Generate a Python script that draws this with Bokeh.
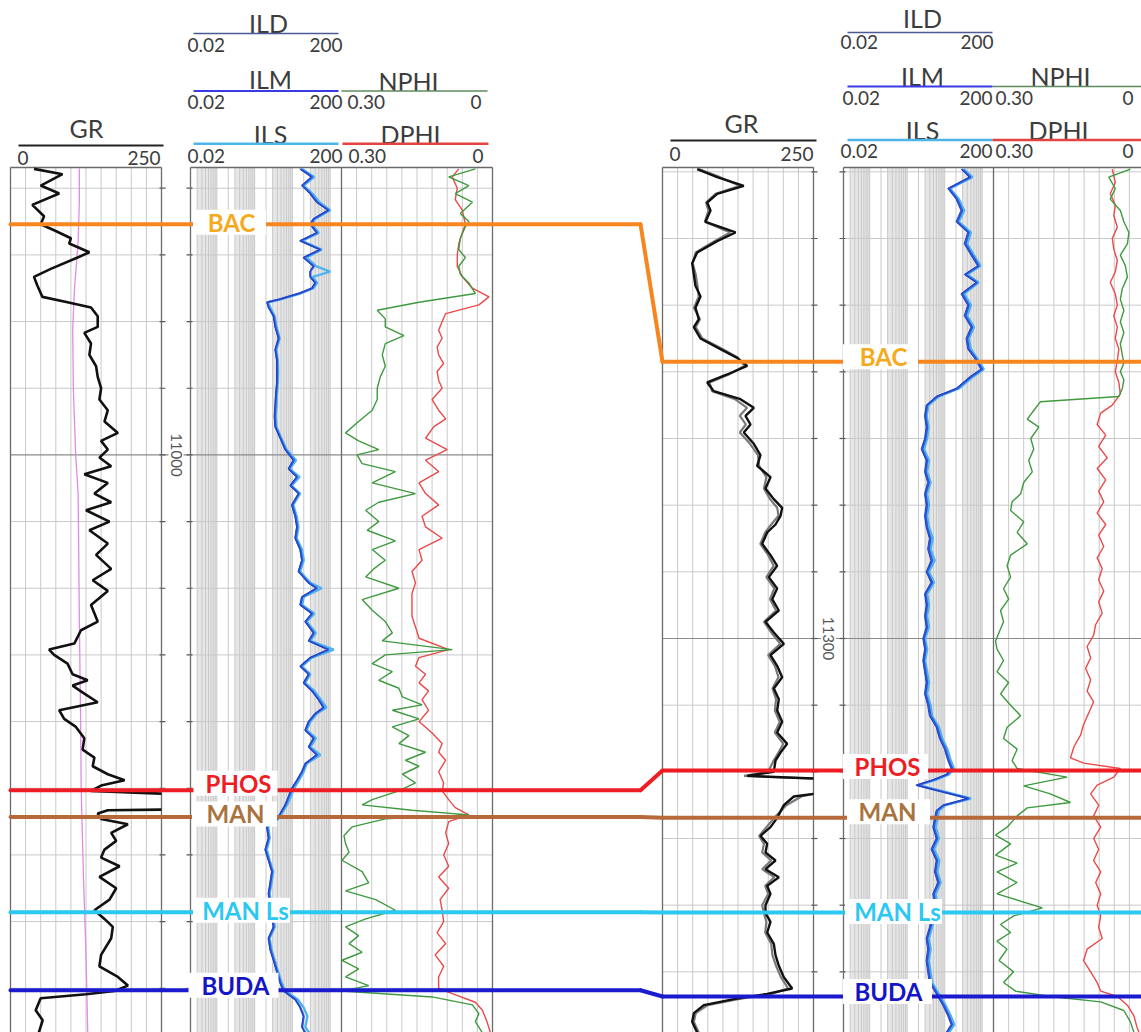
import math
from bokeh.plotting import figure
from bokeh.models import Range1d, LogScale
from bokeh.embed import file_html
from bokeh.resources import INLINE
from bokeh.core.properties import value

NAN = float("nan")   # off-scale gap in a curve

# ============================ DATA ============================
# ---- Left well: GR (API) vs depth (ft)
L_GR_D = [10957.1, 10957.9, 10959.6, 10960.8, 10962.5, 10964.2, 10965.4, 10966.3, 10967.5, 10968.3,
          10969.6, 10970.4, 10972.1, 10973.3, 10974.6, 10976.3, 10977.1, 10977.9, 10979.2, 10980.8,
          10981.7, 10983.3, 10985.0, 10986.7, 10988.3, 10990.0, 10991.7, 10993.3, 10995.0, 10996.7,
          10997.9, 10999.2, 11000.4, 11001.7, 11002.9, 11004.2, 11005.8, 11007.1, 11008.3, 11010.0,
          11011.3, 11013.3, 11015.0, 11017.1, 11018.8, 11020.4, 11022.5, 11025.0, 11026.3, 11028.3,
          11029.2, 11030.0, 11031.3, 11032.9, 11033.8, 11034.6, 11035.8, 11037.1, 11038.3, 11039.6,
          11040.8, 11042.5, 11044.2, 11045.4, 11046.7, 11047.9, 11048.8, 11049.6, 11050.4, 11050.7,
          11050.8, 11052.0, 11053.2, 11053.3, 11053.8, 11054.6, 11055.4, 11056.7, 11057.9, 11059.2,
          11060.4, 11061.7, 11063.3, 11065.0, 11066.7, 11068.3, 11069.6, 11070.8, 11072.5, 11075.0,
          11076.7, 11078.3, 11079.6, 11080.4, 11080.9, 11081.5, 11083.3, 11084.8, 11086.7]
L_GR = [38.9, 86.1, 50.0, 80.6, 36.1, 55.6, 50.0, 72.2, 100.0, 97.2,
        130.6, 111.1, 66.7, 38.9, 44.4, 52.8, 94.4, 133.3, 144.4, 144.4,
        122.2, 133.3, 130.6, 141.7, 144.4, 150.0, 147.2, 161.1, 155.6, 177.8,
        150.0, 161.1, 147.2, 166.7, 122.2, 161.1, 138.9, 166.7, 125.0, 163.9,
        130.6, 161.1, 141.7, 166.7, 136.1, 161.1, 133.3, 144.4, 116.7, 105.6,
        63.9, 72.2, 94.4, 102.8, 127.8, 102.8, 122.2, 144.4, 80.6, 88.9,
        108.3, 122.2, 119.4, 138.9, 136.1, 161.1, 188.9, 150.0, 133.3, 216.7,
        250.0, NAN, 250.0, 161.1, 144.4, 150.0, 194.4, 166.7, 175.0, 155.6,
        150.0, 180.6, 147.2, 175.0, 163.9, 138.9, 155.6, 169.4, 166.7, 150.0,
        147.2, 177.8, 194.4, 172.2, 125.0, 50.0, 41.7, 53.3, 46.7]
# second curve in the GR track (pink)
L_PINK_D = [10957, 10962, 10968, 10975, 10981, 10990, 11000, 11006, 11015, 11025, 11039, 11050, 11064, 11075, 11087]
L_PINK = [114, 114, 112, 106, 103, 104, 108, 112, 113, 114, 116, 117, 121, 125, 128]

# ---- Left well: resistivity (ohm-m)
L_RES_D = [10957.1, 10958.3, 10959.6, 10960.8, 10962.1, 10963.3, 10964.6, 10965.4, 10966.7, 10967.9,
           10969.2, 10970.4, 10971.7, 10972.5, 10973.3, 10974.2, 10975.0, 10975.8, 10976.7, 10977.1,
           10977.9, 10979.2, 10980.8, 10982.5, 10984.2, 10985.8, 10987.5, 10989.2, 10990.8, 10992.5,
           10994.2, 10995.8, 10997.5, 10999.2, 11000.8, 11002.1, 11003.3, 11004.6, 11005.8, 11007.5,
           11009.2, 11010.8, 11012.5, 11014.2, 11015.8, 11017.5, 11019.2, 11020.0, 11021.3, 11022.5,
           11023.8, 11025.0, 11026.7, 11027.9, 11029.2, 11030.4, 11031.7, 11032.9, 11034.2, 11035.4,
           11036.7, 11037.9, 11038.8, 11040.0, 11041.3, 11042.5, 11043.8, 11045.0, 11046.3, 11047.5,
           11048.8, 11050.0, 11051.3, 11052.5, 11053.8, 11054.6, 11055.4, 11055.8, 11057.5, 11059.2,
           11060.8, 11062.5, 11064.2, 11065.8, 11067.5, 11069.2, 11070.8, 11072.5, 11074.2, 11075.8,
           11077.5, 11079.2, 11080.4, 11081.7, 11082.9, 11084.2, 11085.8, 11086.7]
L_ILM = [16.4, 33.5, 18.2, 30.2, 45.4, 92.3, 37.1, 30.2, 45.4, 16.4,
         55.6, 20.1, 37.1, 30.0, 30.2, 40.9, 33.5, 14.8, 4.37, 2.15,
         2.37, 3.22, 3.57, 4.37, 3.57, 3.95, 3.95, 3.95, 3.72, 3.57,
         3.43, 3.57, 4.85, 6.57, 10.9, 8.03, 13.4, 8.91, 14.8, 9.88,
         12.1, 13.4, 12.1, 16.4, 18.2, 14.8, 27.3, 45.4, 18.2, 16.4,
         33.5, 22.2, 37.1, 27.3, 92.0, 30.2, 16.4, 27.3, 20.1, 33.5,
         50.1, 68.1, 40.9, 27.3, 22.2, 37.1, 27.3, 45.4, 22.2, 18.2,
         13.4, 9.88, 8.03, 6.57, 4.85, 3.95, 2.37, 2.15, 2.37, 1.94,
         2.37, 2.92, 2.63, 2.37, 2.63, 2.92, 3.22, 2.37, 2.63, 3.22,
         3.95, 4.85, 5.94, 12.1, 16.4, 20.1, 18.2, 22.2]
L_ILS = [18, 38, 20, 34, 52, 100, 40, 33, 50, 18,
         60, 24, 42, 100, 35, 45, 36, 16, 4.6, 2.3,
         2.6, 3.4, 3.8, 4.6, 3.8, 4.1, 4.2, 4.1, 3.9, 3.8,
         3.6, 3.8, 5.1, 7.0, 12.5, 8.5, 15.5, 9.5, 16, 10.5,
         13, 14.5, 13, 18, 20, 16, 30, 60, 20, 18,
         38, 24, 42, 30, 125, 33, 18, 30, 22, 38,
         56, 80, 45, 30, 24, 42, 30, 55, 24, 20,
         15, 11, 9, 7.2, 5.2, 4.2, 2.6, 2.3, 2.5, 2.1,
         2.5, 3.1, 2.8, 2.5, 2.8, 3.1, 3.4, 2.5, 2.8, 3.4,
         4.2, 5.2, 6.5, 14, 20, 25, 22, 28]
L_ILD = [15.5, 31, 17.5, 28.5, 43, 85, 35, 29, 43, 15.5,
         52, 19, 35, 29, 29, 39, 32, 14, 4.2, 2.1,
         2.3, 3.1, 3.45, 4.2, 3.45, 3.8, 3.8, 3.8, 3.6, 3.45,
         3.3, 3.45, 4.7, 6.3, 10.4, 7.7, 12.8, 8.6, 14.2, 9.5,
         11.6, 12.9, 11.6, 15.7, 17.5, 14.2, 26, 42, 17.5, 15.7,
         32, 21.3, 35.5, 26.2, 85, 29, 15.7, 26.2, 19.3, 32,
         48, 64, 39, 26.2, 21.3, 35.5, 26.2, 43, 21.3, 17.5,
         12.9, 9.5, 7.7, 6.3, 4.65, 3.8, 2.28, 2.07, 2.28, 1.87,
         2.28, 2.8, 2.52, 2.28, 2.52, 2.8, 3.1, 2.28, 2.52, 3.1,
         3.8, 4.65, 5.7, 11.6, 15.7, 19.3, 17.5, 21.3]

# ---- Left well: porosity (v/v)
L_NPHI_D = [10957.1, 10958.3, 10959.6, 10960.8, 10962.1, 10963.8, 10965.0, 10965.8, 10967.5, 10969.2,
            10970.4, 10971.7, 10972.9, 10974.2, 10975.8, 10977.1, 10978.3, 10979.6, 10980.8, 10982.1,
            10983.3, 10985.0, 10986.7, 10988.3, 10990.0, 10991.7, 10993.3, 10995.0, 10996.7, 10997.9,
            10999.2, 11000.0, 11001.3, 11002.5, 11004.2, 11005.8, 11007.1, 11008.3, 11010.0, 11011.3,
            11012.9, 11014.2, 11015.8, 11017.1, 11018.3, 11020.0, 11021.7, 11023.3, 11025.0, 11026.7,
            11027.9, 11029.2, 11030.0, 11031.3, 11032.5, 11033.8, 11035.0, 11036.3, 11037.5, 11038.3,
            11039.6, 11040.8, 11042.1, 11043.3, 11044.6, 11045.8, 11046.7, 11047.9, 11049.2, 11050.4,
            11051.7, 11052.5, 11053.3, 11054.0, 11054.6, 11055.8, 11057.1, 11058.3, 11059.6, 11060.8,
            11062.5, 11064.2, 11065.4, 11066.7, 11068.3, 11069.6, 11070.8, 11072.1, 11073.3, 11074.6,
            11075.8, 11077.1, 11078.3, 11079.6, 11080.4, 11081.3, 11082.5, 11083.8, 11085.0, 11086.7]
L_NPHI = [0.034, 0.087, 0.047, 0.074, 0.040, 0.064, 0.047, 0.054, 0.064, 0.067,
          0.054, 0.067, 0.064, 0.047, 0.034, 0.146, 0.229, 0.213, 0.213, 0.176,
          0.213, 0.219, 0.213, 0.223, 0.229, 0.229, 0.239, 0.266, 0.292, 0.266,
          0.226, 0.269, 0.259, 0.193, 0.239, 0.153, 0.226, 0.252, 0.226, 0.249,
          0.193, 0.239, 0.213, 0.236, 0.252, 0.186, 0.259, 0.239, 0.213, 0.199,
          0.219, 0.080, 0.213, 0.239, 0.199, 0.226, 0.186, 0.179, 0.140, 0.199,
          0.146, 0.199, 0.166, 0.186, 0.133, 0.173, 0.146, 0.179, 0.153, 0.186,
          0.239, 0.259, 0.160, 0.047, 0.213, 0.279, 0.295, 0.292, 0.285, 0.299,
          0.259, 0.246, 0.292, 0.232, 0.193, 0.252, 0.292, 0.266, 0.285, 0.259,
          0.299, 0.266, 0.292, 0.246, 0.299, 0.120, 0.040, 0.027, 0.034, 0.020]
L_DPHI_D = [10957.1, 10958.3, 10960.0, 10961.7, 10963.3, 10965.4, 10966.7, 10968.3, 10970.0, 10971.7,
            10973.3, 10975.0, 10976.3, 10977.5, 10978.8, 10980.0, 10981.3, 10982.5, 10983.8, 10985.0,
            10986.3, 10987.5, 10988.8, 10990.0, 10991.7, 10993.3, 10994.6, 10995.8, 10997.5, 10999.2,
            11000.8, 11002.5, 11004.2, 11005.8, 11007.5, 11009.2, 11010.8, 11012.5, 11014.2, 11015.8,
            11017.5, 11019.2, 11020.8, 11022.5, 11024.2, 11025.8, 11027.5, 11029.2, 11030.4, 11031.7,
            11032.9, 11034.2, 11035.4, 11036.7, 11038.3, 11040.0, 11041.7, 11043.3, 11044.6, 11045.8,
            11047.5, 11049.2, 11050.4, 11051.7, 11052.9, 11054.0, 11055.0, 11056.7, 11058.3, 11060.0,
            11061.7, 11063.3, 11065.0, 11066.7, 11068.3, 11070.0, 11071.7, 11073.3, 11075.0, 11076.7,
            11078.3, 11080.0, 11080.8, 11082.1, 11083.3, 11085.0, 11086.7]
L_DPHI = [0.067, 0.080, 0.070, 0.074, 0.060, 0.054, 0.060, 0.067, 0.070, 0.070,
          0.060, 0.040, 0.007, 0.027, 0.093, 0.100, 0.107, 0.100, 0.110, 0.107,
          0.097, 0.110, 0.107, 0.100, 0.120, 0.107, 0.093, 0.117, 0.133, 0.090,
          0.133, 0.107, 0.146, 0.133, 0.107, 0.140, 0.133, 0.100, 0.146, 0.140,
          0.160, 0.153, 0.160, 0.160, 0.160, 0.153, 0.146, 0.087, 0.146, 0.153,
          0.133, 0.146, 0.127, 0.140, 0.127, 0.146, 0.120, 0.100, 0.107, 0.093,
          0.107, 0.097, 0.100, 0.087, 0.074, 0.047, 0.087, 0.093, 0.087, 0.097,
          0.087, 0.107, 0.087, 0.104, 0.100, 0.097, 0.110, 0.093, 0.114, 0.097,
          0.107, 0.107, 0.080, 0.034, 0.020, 0.011, 0.004]

# ---- Right well: GR (two runs)
R_GR_D = [11229.6, 11230.8, 11232.1, 11233.3, 11234.6, 11235.8, 11237.5, 11239.1, 11240.4, 11242.1,
          11243.7, 11245.4, 11247.1, 11248.7, 11250.4, 11252.1, 11253.3, 11255.0, 11256.6, 11257.9,
          11259.1, 11260.4, 11261.6, 11262.9, 11264.1, 11265.4, 11266.6, 11267.9, 11269.1, 11270.8,
          11272.5, 11274.1, 11275.8, 11277.5, 11279.1, 11280.4, 11281.6, 11282.9, 11284.1, 11285.8,
          11287.5, 11289.1, 11290.8, 11292.5, 11294.1, 11295.8, 11297.5, 11299.1, 11300.8, 11302.5,
          11304.1, 11305.8, 11307.5, 11309.1, 11310.8, 11312.5, 11314.1, 11315.8, 11317.1, 11318.3,
          11320.0, 11320.6, 11321.0, 11322.0, 11323.3, 11323.7, 11325.0, 11326.9, 11328.3, 11329.6,
          11330.8, 11332.1, 11333.3, 11334.6, 11335.8, 11337.1, 11338.3, 11340.0, 11341.2, 11342.5,
          11344.1, 11345.8, 11347.5, 11349.1, 11350.8, 11352.5, 11353.3, 11354.1, 11355.0, 11356.2,
          11357.5, 11359.1]
R_GR = [57.4, 90.5, 134.6, 90.5, 74.0, 79.5, 71.2, 120.9, 90.5, 57.4,
        49.1, 51.9, 54.6, 62.9, 54.6, 60.2, 51.9, 62.9, 96.0, 123.6,
        140.2, 107.1, 74.0, 85.0, 129.1, 151.2, 137.4, 145.7, 134.6, 151.2,
        162.2, 156.7, 178.8, 170.5, 184.3, 198.1, 195.4, 187.1, 173.3, 165.0,
        178.8, 189.8, 176.0, 189.8, 181.6, 192.6, 170.5, 184.3, 200.9, 178.8,
        189.8, 198.1, 184.3, 192.6, 189.8, 198.1, 189.8, 206.4, 195.4, 187.1,
        184.3, 140.2, 250.0, NAN, 250.0, 217.4, 200.9, 189.8, 178.8, 162.2,
        173.3, 170.5, 187.1, 170.5, 192.6, 173.3, 178.8, 170.5, 170.5, 178.8,
        173.3, 184.3, 187.1, 192.6, 200.9, 214.7, 173.3, 118.1, 68.4, 51.9,
        49.1, 57.4]
R_GR2 = [60, 95, 128, 88, 72, 76, 70, 112, 86, 55,
         50, 55, 58, 60, 52, 62, 55, 66, 100, 125,
         136, 110, 78, 82, 120, 140, 128, 138, 128, 145,
         158, 160, 172, 168, 178, 190, 192, 180, 170, 162,
         175, 184, 172, 185, 178, 188, 168, 180, 195, 175,
         186, 192, 182, 188, 186, 194, 186, 200, 192, 184,
         175, 135, 250, NAN, 250, 230, 205, 185, 172, 160,
         168, 165, 180, 165, 185, 170, 175, 165, 168, 172,
         170, 180, 182, 188, 196, 208, 180, 125, 75, 55,
         52, 60]

# ---- Right well: resistivity (ohm-m)
R_RES_D = [11229.6, 11230.8, 11232.5, 11234.1, 11235.8, 11237.5, 11239.1, 11240.8, 11242.5, 11244.1,
           11245.4, 11246.6, 11248.3, 11250.0, 11251.6, 11253.3, 11255.0, 11256.6, 11257.9, 11259.6,
           11260.8, 11262.5, 11263.7, 11265.0, 11266.6, 11268.3, 11270.0, 11271.6, 11273.3, 11275.0,
           11276.6, 11278.3, 11280.0, 11281.6, 11283.3, 11285.0, 11286.6, 11288.3, 11290.0, 11291.6,
           11293.3, 11295.0, 11296.6, 11298.3, 11300.0, 11301.6, 11303.3, 11305.0, 11306.6, 11308.3,
           11310.0, 11311.6, 11313.3, 11315.0, 11316.6, 11318.3, 11319.5, 11320.4, 11321.2, 11322.0,
           11322.9, 11324.0, 11325.0, 11325.8, 11328.3, 11330.0, 11331.6, 11333.3, 11335.0, 11336.6,
           11338.3, 11340.0, 11343.3, 11345.0, 11346.6, 11348.3, 11350.0, 11351.6, 11353.3, 11355.0,
           11356.6, 11357.9, 11359.1]
R_ILM = [29.2, 48.7, 12.9, 21.5, 29.2, 21.5, 44.0, 35.8, 54.0, 81.3,
         35.8, 73.3, 29.2, 44.0, 35.8, 54.0, 39.7, 44.0, 66.2, 99.8,
         48.7, 21.5, 6.29, 3.40, 3.08, 3.40, 3.08, 2.51, 3.40, 3.08,
         3.77, 3.08, 3.40, 3.08, 3.40, 4.18, 3.77, 4.63, 3.40, 4.63,
         3.08, 3.40, 3.08, 3.40, 2.77, 3.08, 2.77, 3.08, 3.40, 3.08,
         3.77, 4.18, 6.29, 7.72, 10.5, 12.9, 15.8, 11.6, 5.13, 1.84,
         7.72, 44.0, 9.48, 6.29, 5.13, 6.29, 4.63, 6.29, 5.68, 6.97,
         5.13, 5.68, 4.18, 3.40, 3.77, 3.40, 3.77, 4.18, 6.29, 9.48,
         12.9, 15.8, 11.6]
R_ILS = [32, 55, 14, 24, 33, 24, 50, 40, 60, 90,
         40, 80, 33, 50, 40, 60, 44, 50, 72, 110,
         55, 24, 7.0, 3.7, 3.3, 3.7, 3.4, 2.8, 3.8, 3.4,
         4.2, 3.4, 3.8, 3.4, 3.8, 4.8, 4.2, 5.4, 3.8, 5.2,
         3.4, 3.8, 3.4, 3.8, 3.0, 3.4, 3.0, 3.4, 3.8, 3.4,
         4.2, 4.6, 7.0, 8.6, 11.8, 14.5, 17.5, 13, 5.8, 2.0,
         8.6, 50, 10.5, 7.0, 5.8, 7.0, 5.2, 7.2, 6.4, 7.8,
         5.8, 6.4, 4.6, 3.8, 4.2, 3.8, 4.2, 4.6, 7.0, 10.5,
         14.5, 18, 13]
R_ILD = [27, 45, 12, 20, 27, 20, 41, 33, 50, 75,
         33, 68, 27, 41, 33, 50, 37, 41, 61, 92,
         45, 20, 5.9, 3.2, 2.9, 3.2, 2.9, 2.35, 3.2, 2.9,
         3.5, 2.9, 3.2, 2.9, 3.2, 3.9, 3.5, 4.3, 3.2, 4.3,
         2.9, 3.2, 2.9, 3.2, 2.6, 2.9, 2.6, 2.9, 3.2, 2.9,
         3.5, 3.9, 5.9, 7.2, 9.8, 12, 14.7, 10.8, 4.8, 1.7,
         7.2, 41, 8.8, 5.9, 4.8, 5.9, 4.3, 5.9, 5.3, 6.5,
         4.8, 5.3, 3.9, 3.2, 3.5, 3.2, 3.5, 3.9, 5.9, 8.8,
         12, 14.7, 10.8]

# ---- Right well: porosity (v/v)
R_NPHI_D = [11229.6, 11230.8, 11232.5, 11234.1, 11235.8, 11237.5, 11239.1, 11240.8, 11242.5, 11244.1,
            11245.8, 11247.5, 11249.1, 11250.8, 11252.5, 11254.1, 11255.8, 11257.5, 11258.7, 11260.0,
            11261.2, 11262.5, 11263.7, 11264.5, 11265.8, 11267.1, 11268.3, 11270.0, 11271.6, 11273.3,
            11275.0, 11276.6, 11278.3, 11279.5, 11280.8, 11282.5, 11284.1, 11285.8, 11287.5, 11289.1,
            11290.8, 11292.5, 11294.1, 11295.8, 11297.5, 11299.1, 11300.4, 11301.6, 11303.3, 11305.0,
            11306.6, 11308.3, 11310.0, 11311.6, 11313.3, 11315.0, 11316.6, 11318.3, 11319.5, 11320.8,
            11322.1, 11323.3, 11324.6, 11325.4, 11326.6, 11328.3, 11329.5, 11330.8, 11332.5, 11333.7,
            11335.0, 11336.6, 11338.3, 11340.4, 11341.6, 11342.9, 11344.1, 11345.4, 11346.6, 11348.3,
            11350.0, 11351.6, 11352.9, 11353.7, 11354.5, 11355.8, 11357.5, 11359.1]
R_NPHI = [0.028, 0.071, 0.058, 0.068, 0.048, 0.041, 0.031, 0.034, 0.048, 0.038,
          0.034, 0.044, 0.048, 0.041, 0.048, 0.041, 0.048, 0.044, 0.041, 0.048,
          0.041, 0.044, 0.051, 0.207, 0.220, 0.233, 0.210, 0.226, 0.220, 0.230,
          0.223, 0.240, 0.246, 0.263, 0.266, 0.240, 0.253, 0.233, 0.266, 0.273,
          0.266, 0.280, 0.270, 0.286, 0.280, 0.289, 0.296, 0.293, 0.280, 0.293,
          0.270, 0.286, 0.266, 0.246, 0.273, 0.280, 0.253, 0.263, 0.253, 0.154,
          0.240, 0.187, 0.147, 0.233, 0.253, 0.273, 0.296, 0.266, 0.296, 0.253,
          0.293, 0.253, 0.293, 0.203, 0.260, 0.286, 0.266, 0.293, 0.273, 0.289,
          0.260, 0.280, 0.256, 0.187, 0.087, 0.041, 0.028, 0.021]
R_DPHI_D = [11229.6, 11231.6, 11233.3, 11235.0, 11236.6, 11238.3, 11240.0, 11241.6, 11243.3, 11245.0,
            11246.6, 11248.3, 11250.0, 11251.6, 11253.3, 11255.0, 11256.6, 11258.3, 11260.0, 11261.6,
            11263.3, 11265.0, 11266.2, 11267.9, 11269.5, 11271.2, 11272.9, 11274.5, 11276.2, 11277.9,
            11279.5, 11281.2, 11282.9, 11284.5, 11286.2, 11287.9, 11289.5, 11291.2, 11292.9, 11294.5,
            11296.2, 11297.9, 11299.5, 11301.2, 11302.9, 11304.5, 11306.2, 11307.9, 11309.5, 11311.2,
            11312.9, 11314.5, 11316.2, 11317.9, 11318.7, 11319.5, 11320.8, 11322.0, 11323.3, 11325.0,
            11326.6, 11328.3, 11330.0, 11331.6, 11333.3, 11335.0, 11336.6, 11338.3, 11340.0, 11341.6,
            11343.3, 11345.0, 11346.6, 11348.3, 11350.0, 11351.6, 11352.9, 11353.7, 11355.0, 11356.6,
            11358.3, 11359.1]
R_DPHI = [0.064, 0.058, 0.068, 0.058, 0.061, 0.054, 0.064, 0.061, 0.054, 0.058,
          0.068, 0.058, 0.054, 0.061, 0.054, 0.058, 0.051, 0.054, 0.058, 0.051,
          0.048, 0.064, 0.087, 0.094, 0.077, 0.091, 0.074, 0.094, 0.077, 0.091,
          0.081, 0.094, 0.077, 0.091, 0.081, 0.094, 0.084, 0.091, 0.081, 0.091,
          0.084, 0.097, 0.101, 0.114, 0.107, 0.117, 0.107, 0.114, 0.101, 0.111,
          0.121, 0.127, 0.140, 0.147, 0.121, 0.048, 0.061, 0.094, 0.107, 0.091,
          0.101, 0.087, 0.101, 0.091, 0.101, 0.087, 0.097, 0.087, 0.094, 0.087,
          0.091, 0.084, 0.114, 0.121, 0.107, 0.094, 0.087, 0.054, 0.034, 0.021,
          0.015, 0.011]

# ---- formation tops (depth, ft)
TOP_NAMES = ["BAC", "PHOS", "MAN", "MAN Ls", "BUDA"]
L_TOPS = [10965.4, 11050.3, 11054.3, 11068.6, 11080.3]
R_TOPS = [11258.5, 11319.8, 11326.9, 11341.1, 11353.7]

# ---- track scales (header tick labels)
GR_SCALE = ["0", "250"]
RES_SCALE = ["0.02", "200"]
POR_SCALE = ["0.30", "0"]

# ============================ LAYOUT / STYLE ============================
PX0, PX1 = 0, 1141          # picture x covered by the plot frame
PY0, PY1 = 0, 1032          # picture y covered by the plot frame
PX_PER_FT = 6.667
TRACK_TOP = 167
GR_LIM = (0.0, 250.0)
RES_LIM = (0.02, 200.0)
POR_LIM = (0.30, 0.0)
WELL = {
    "L": dict(d0=11000.0, y0=454.4, gr=(10, 161), dep=(161, 190), res=(190, 341), por=(341, 492)),
    "R": dict(d0=11300.0, y0=638.0, gr=(662, 813), dep=(813, 843), res=(843, 993), por=(993, 1144)),
}
FONT = value("Lato")
HEAD_COLOR = "#3c3c3c"
GRID = "#c9c9c9"
BORDER = "#6a6a6a"
TITLE_SIZE = "25px"
SCALE_SIZE = "19px"
TOP_SIZE = "24px"


def depth_at(w, y):
    return WELL[w]["d0"] + (y - WELL[w]["y0"]) / PX_PER_FT


def y_at(w, d):
    return WELL[w]["y0"] + (d - WELL[w]["d0"]) * PX_PER_FT


def lin_range(a, b, v0, v1):
    k = (v1 - v0) / (b - a)
    return Range1d(start=v0 + (PX0 - a) * k, end=v0 + (PX1 - a) * k)


def log_range(a, b, v0, v1):
    l0, l1 = math.log10(v0), math.log10(v1)
    k = (l1 - l0) / (b - a)
    return Range1d(start=10 ** (l0 + (PX0 - a) * k), end=10 ** (l0 + (PX1 - a) * k))


p = figure(width=PX1 - PX0, height=PY1 - PY0,
           x_range=Range1d(PX0, PX1), y_range=Range1d(PY1, PY0),
           output_backend="svg", toolbar_location=None,
           x_axis_location=None, y_axis_location=None, min_border=0)
p.grid.visible = False
p.outline_line_color = None
p.background_fill_color = "white"

xr, xs = {}, {}
for w in "LR":
    c = WELL[w]
    xr["gr" + w] = lin_range(c["gr"][0], c["gr"][1], *GR_LIM)
    xr["res" + w] = log_range(c["res"][0], c["res"][1], *RES_LIM)
    xs["res" + w] = LogScale()
    xr["por" + w] = lin_range(c["por"][0], c["por"][1], *POR_LIM)
p.extra_x_ranges = xr
p.extra_x_scales = xs
p.extra_y_ranges = {"d" + w: Range1d(start=depth_at(w, PY1), end=depth_at(w, PY0)) for w in "LR"}

GR_GRID = [GR_LIM[0] + i * 25.0 for i in range(11)]
POR_GRID = [i * 0.03 for i in range(11)]
RES_GRID = [m * 10.0 ** k for k in range(-2, 3) for m in range(1, 10)
            if 0.0199 <= m * 10.0 ** k <= 200.1]

# ---------------- tracks & grids ----------------
for w in "LR":
    c = WELL[w]
    dn = "d" + w
    dtop = depth_at(w, TRACK_TOP)
    dbot = depth_at(w, PY1)
    # shaded dense part of each log cycle
    lefts = [3 * 10.0 ** k for k in range(-2, 2)]
    rights = [10 * 10.0 ** k for k in range(-2, 2)]
    p.quad(left=lefts, right=rights, top=[dtop] * 4, bottom=[dbot] * 4,
           x_range_name="res" + w, y_range_name=dn, fill_color="#e6e6e6", line_color=None)
    for name, vals in (("gr", GR_GRID), ("res", RES_GRID), ("por", POR_GRID)):
        n = len(vals)
        p.segment(x0=vals, y0=[dtop] * n, x1=vals, y1=[dbot] * n,
                  x_range_name=name + w, y_range_name=dn, line_color=GRID, line_width=1)
    # horizontal depth lines every 10 ft
    d10 = list(range(int(math.ceil(dtop / 10.0)) * 10, int(dbot) + 1, 10))
    minor = [d for d in d10 if d % 100 != 0]
    major = [d for d in d10 if d % 100 == 0]
    for key in ("gr", "res", "por"):
        a, b = c[key]
        p.segment(x0=[a] * len(minor), x1=[b] * len(minor), y0=minor, y1=minor,
                  y_range_name=dn, line_color=GRID, line_width=1)
    p.segment(x0=[c["gr"][0]] * len(major), x1=[c["por"][1]] * len(major), y0=major, y1=major,
              y_range_name=dn, line_color="#8a8a8a", line_width=1.2)
    # depth-track ticks
    a, b = c["dep"]
    p.segment(x0=[a - 2] * len(d10), x1=[a + 4] * len(d10), y0=d10, y1=d10,
              y_range_name=dn, line_color="#555555", line_width=1.2)
    p.segment(x0=[b - 4] * len(d10), x1=[b + 2] * len(d10), y0=d10, y1=d10,
              y_range_name=dn, line_color="#555555", line_width=1.2)
    # track borders
    edges = [c["gr"][0], c["gr"][1], c["res"][0], c["res"][1], c["por"][1]]
    p.segment(x0=edges, x1=edges, y0=[TRACK_TOP] * 5, y1=[PY1] * 5, line_color=BORDER, line_width=1.3)
    for key in ("gr", "res", "por"):
        a, b = c[key]
        p.segment(x0=[a], x1=[b], y0=[TRACK_TOP], y1=[TRACK_TOP], line_color=BORDER, line_width=1.3)
    # depth labels
    for d in major:
        cx = (c["dep"][0] + c["dep"][1]) / 2.0
        p.rect(x=[cx], y=[y_at(w, d)], width=[15], height=[48], width_units="screen",
               height_units="screen", fill_color="white", line_color=None)
        p.text(x=[cx], y=[d], text=[str(d)], y_range_name=dn, angle=-math.pi / 2,
               text_align="center", text_baseline="middle", text_font=FONT,
               text_font_size="15px", text_color="#555555")

# ---------------- curves ----------------
p.line(L_PINK, L_PINK_D, x_range_name="grL", y_range_name="dL", line_color="#e389e6", line_width=1.3)
p.line(L_GR, L_GR_D, x_range_name="grL", y_range_name="dL", line_color="#111111", line_width=2.6)
p.line(R_GR2, R_GR_D, x_range_name="grR", y_range_name="dR", line_color="#7a7a7a", line_width=2.2)
p.line(R_GR, R_GR_D, x_range_name="grR", y_range_name="dR", line_color="#111111", line_width=2.4)

for w, dd, ils, ilm, ild in (("L", L_RES_D, L_ILS, L_ILM, L_ILD), ("R", R_RES_D, R_ILS, R_ILM, R_ILD)):
    p.line(ils, dd, x_range_name="res" + w, y_range_name="d" + w, line_color="#4fb3ee", line_width=2.4)
    p.line(ilm, dd, x_range_name="res" + w, y_range_name="d" + w, line_color="#2a55e0", line_width=2.0)
    p.line(ild, dd, x_range_name="res" + w, y_range_name="d" + w, line_color="#2840b8", line_width=1.0)

for w, nd, nv, dd, dv in (("L", L_NPHI_D, L_NPHI, L_DPHI_D, L_DPHI), ("R", R_NPHI_D, R_NPHI, R_DPHI_D, R_DPHI)):
    p.line(dv, dd, x_range_name="por" + w, y_range_name="d" + w, line_color="#ea4a4a", line_width=1.4)
    p.line(nv, nd, x_range_name="por" + w, y_range_name="d" + w, line_color="#3f9a3f", line_width=1.4)

# ---------------- formation tops ----------------
TOP_LINE_COLORS = ["#f7861f", "#ee1d23", "#b8693b", "#2bc8f2", "#1a1acf"]
TOP_TEXT_COLORS = ["#f4aa1c", "#ee1d23", "#a8733e", "#2bc8f2", "#1515c8"]
LBL_L = dict(box=[229, 235, 234, 241, 233], bw=[73, 84, 85, 97, 90], tx=[231, 238, 235, 245, 235],
             dy=[-2, -7, -3, -2, -5])
LBL_R = dict(box=[880, 885, 888, 893, 887], bw=[75, 85, 83, 97, 89], tx=[883, 887, 887, 897, 888],
             dy=[-5, -4, -6, -1, -5])
X_SPLIT0, X_SPLIT1 = 640, 662
for i, name in enumerate(TOP_NAMES):
    col = TOP_LINE_COLORS[i]
    dl, dr = L_TOPS[i], R_TOPS[i]
    p.segment(x0=[WELL["L"]["gr"][0]], x1=[X_SPLIT0], y0=[dl], y1=[dl], y_range_name="dL",
              line_color=col, line_width=4, line_cap="round")
    p.segment(x0=[X_SPLIT1], x1=[PX1], y0=[dr], y1=[dr], y_range_name="dR",
              line_color=col, line_width=4, line_cap="round")
    p.segment(x0=[X_SPLIT0], x1=[X_SPLIT1], y0=[y_at("L", dl)], y1=[y_at("R", dr)],
              line_color=col, line_width=4, line_cap="round")
    for w, d, lb in (("L", dl, LBL_L), ("R", dr, LBL_R)):
        yc = y_at(w, d) + lb["dy"][i]
        p.rect(x=[lb["box"][i]], y=[yc], width=[lb["bw"][i]], height=[25],
               width_units="screen", height_units="screen", fill_color="white", line_color=None)
        p.text(x=[lb["tx"][i]], y=[yc], text=[name], text_align="center", text_baseline="middle",
               text_font=FONT, text_font_style="bold", text_font_size=TOP_SIZE,
               text_color=TOP_TEXT_COLORS[i])

# ---------------- headers ----------------
def header(title, cx, ty, x0, x1, ly, sy, lx0, lx1, scale, color, lw):
    p.text(x=[cx], y=[ty], text=[title], text_align="center", text_baseline="middle",
           text_font=FONT, text_font_size=TITLE_SIZE, text_color=HEAD_COLOR)
    p.segment(x0=[x0], x1=[x1], y0=[ly], y1=[ly], line_color=color, line_width=lw)
    p.text(x=[lx0], y=[sy], text=[scale[0]], text_align="left", text_baseline="middle",
           text_font=FONT, text_font_size=SCALE_SIZE, text_color=HEAD_COLOR)
    p.text(x=[lx1], y=[sy], text=[scale[1]], text_align="right", text_baseline="middle",
           text_font=FONT, text_font_size=SCALE_SIZE, text_color=HEAD_COLOR)


C_GR, C_ILD, C_ILM, C_ILS, C_NPHI, C_DPHI = "#222222", "#4b5a94", "#3a3ae6", "#4db5e8", "#5f8a5f", "#e2453f"
# left well
header("GR", 86, 127, 18, 163, 145, 157, 17, 160, GR_SCALE, C_GR, 2)
header("ILD", 268, 22, 193, 338, 33, 44, 187, 342, RES_SCALE, C_ILD, 1.5)
header("ILM", 270, 78, 193, 338, 90.5, 101, 187, 342, RES_SCALE, C_ILM, 2)
header("ILS", 270, 133, 193, 338, 143.3, 155, 187, 342, RES_SCALE, C_ILS, 2.5)
header("NPHI", 408, 80, 341, 487, 90.5, 101, 347, 481, POR_SCALE, C_NPHI, 1.5)
header("DPHI", 410, 133, 342, 488, 143.3, 155, 348, 483, POR_SCALE, C_DPHI, 2.5)
# right well
header("GR", 741, 122, 670, 816, 140, 153, 669, 813, GR_SCALE, C_GR, 2)
header("ILD", 922, 17, 847, 992, 32, 41, 840, 993, RES_SCALE, C_ILD, 1.5)
header("ILM", 922, 75, 847, 992, 86, 97, 842, 992, RES_SCALE, C_ILM, 2)
header("ILS", 922, 129, 847, 992, 139.5, 150, 840, 992, RES_SCALE, C_ILS, 2.5)
header("NPHI", 1060, 75, 992, 1141, 86, 97, 995, 1133, POR_SCALE, C_NPHI, 1.5)
header("DPHI", 1058, 129, 992, 1141, 139.5, 150, 995, 1133, POR_SCALE, C_DPHI, 2.5)

open("out.html", "w").write(file_html(p, INLINE))
